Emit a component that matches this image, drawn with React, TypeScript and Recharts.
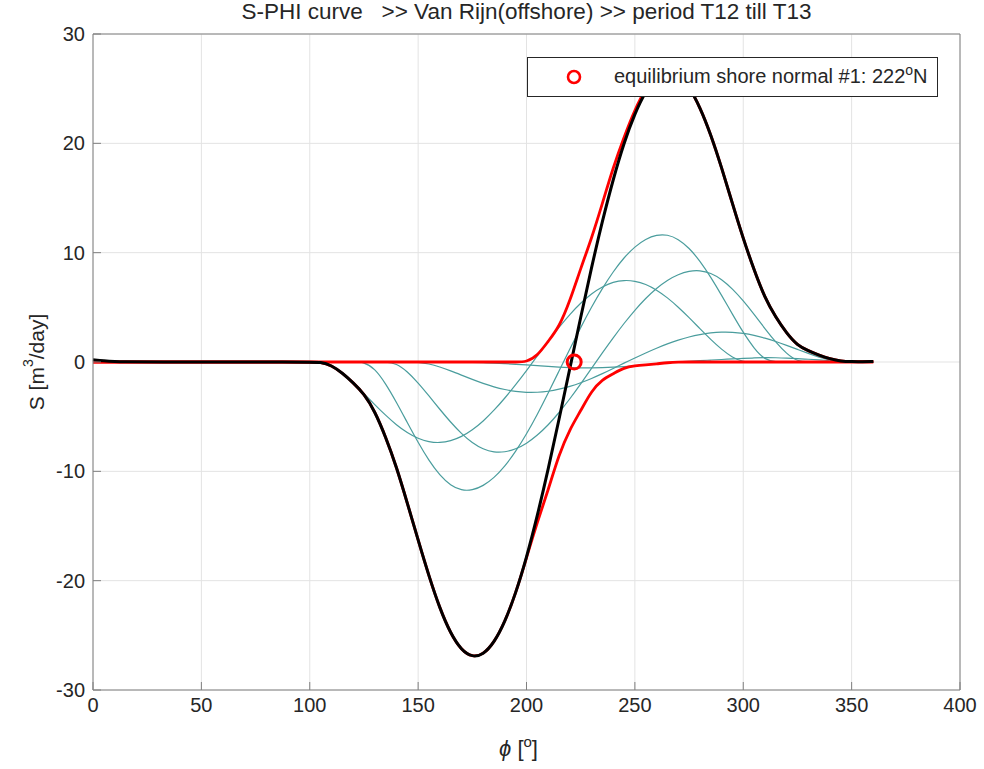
import {
  CartesianGrid,
  ComposedChart,
  Legend,
  Line,
  ReferenceDot,
  XAxis,
  YAxis,
} from 'recharts'

const FONT = '"Liberation Sans", Arial, Helvetica, sans-serif'
const INK = '#262626'
const FRAME = '#808080'
const TEAL = '#4a9d9d'
const RED = '#ff0000'

const TITLE = 'S-PHI curve   >> Van Rijn(offshore) >> period T12 till T13'

// shore normal angle [deg]
const PHI = [
  0, 5, 10, 15, 20, 100, 105, 110, 115, 120, 125, 130, 135, 140, 145, 150, 155,
  160, 165, 170, 175, 180, 185, 190, 195, 200, 205, 210, 215, 220, 225, 230, 235,
  240, 245, 250, 255, 260, 265, 270, 275, 280, 285, 290, 295, 300, 305, 310, 315,
  320, 325, 330, 335, 340, 345, 350, 355, 360,
]

// transport per wave condition [m3/day]
const S_COND_1 = [
  0, 0, 0, 0, 0, 0, 0, -0.3, -1.0, -1.89, -2.89, -3.9, -4.88, -5.76, -6.48,
  -7.01, -7.32, -7.4, -7.23, -6.84, -6.23, -5.42, -4.43, -3.31, -2.08, -0.79,
  0.55, 1.9, 3.18, 4.36, 5.4, 6.26, 6.9, 7.32, 7.49, 7.42, 7.12, 6.6, 5.89, 5.03,
  4.07, 3.05, 2.06, 1.15, 0.41, 0, 0, 0, 0, 0, 0, 0, 0, 0, 0, 0, 0, 0,
]
const S_COND_2 = [
  0, 0, 0, 0, 0, 0, 0, 0, 0, 0, 0, -0.59, -1.96, -3.68, -5.54, -7.37, -9.02,
  -10.37, -11.3, -11.76, -11.74, -11.34, -10.61, -9.55, -8.2, -6.6, -4.8, -2.85,
  -0.82, 1.2, 3.16, 5.03, 6.75, 8.27, 9.56, 10.56, 11.26, 11.64, 11.66, 11.26,
  10.44, 9.25, 7.77, 6.11, 4.37, 2.69, 1.23, 0.19, 0, 0, 0, 0, 0, 0, 0, 0, 0, 0,
]
const S_COND_3 = [
  0, 0, 0, 0, 0, 0, 0, 0, 0, 0, 0, 0, 0, -0.13, -0.87, -1.91, -3.1, -4.33,
  -5.51, -6.56, -7.41, -7.99, -8.27, -8.25, -7.98, -7.46, -6.71, -5.77, -4.64,
  -3.38, -2.01, -0.58, 0.84, 2.22, 3.54, 4.75, 5.84, 6.76, 7.5, 8.02, 8.33, 8.39,
  8.15, 7.57, 6.7, 5.61, 4.36, 3.05, 1.81, 0.75, 0.05, 0, 0, 0, 0, 0, 0, 0,
]
const S_COND_4 = [
  0, 0, 0, 0, 0, 0, 0, 0, 0, 0, 0, 0, 0, 0, 0, 0, -0.16, -0.45, -0.81, -1.2,
  -1.59, -1.96, -2.28, -2.53, -2.71, -2.79, -2.78, -2.69, -2.5, -2.24, -1.91,
  -1.51, -1.07, -0.6, -0.1, 0.37, 0.83, 1.27, 1.66, 2.01, 2.3, 2.52, 2.67, 2.74,
  2.73, 2.64, 2.45, 2.2, 1.88, 1.52, 1.15, 0.78, 0.43, 0.16, 0, 0, 0, 0,
]
const S_COND_5 = [
  0, 0, 0, 0, 0, 0, 0, 0, 0, 0, 0, 0, 0, 0, 0, 0, 0, 0, 0, -0.01, -0.03, -0.06,
  -0.1, -0.15, -0.21, -0.27, -0.34, -0.41, -0.47, -0.52, -0.55, -0.54, -0.52,
  -0.48, -0.42, -0.35, -0.26, -0.17, -0.06, 0.02, 0.07, 0.12, 0.18, 0.23, 0.28,
  0.33, 0.37, 0.4, 0.39, 0.36, 0.31, 0.25, 0.19, 0.13, 0.07, 0.03, 0.01, 0,
]

// net transport, positive part and negative part
const S_TOTAL = [
  0.2, 0.1, 0.04, 0.01, 0, 0, 0, -0.3, -1.0, -1.89, -2.89, -4.49, -6.84, -9.57,
  -12.89, -16.29, -19.6, -22.55, -24.85, -26.37, -27.0, -26.77, -25.69, -23.79,
  -21.18, -17.91, -14.08, -9.82, -5.25, -0.58, 4.09, 8.66, 12.9, 16.73, 20.07,
  22.75, 24.79, 26.1, 26.65, 26.34, 25.21, 23.33, 20.83, 17.8, 14.49, 11.27,
  8.41, 5.84, 4.08, 2.63, 1.51, 1.03, 0.62, 0.29, 0.07, 0.03, 0.03, 0.05,
]
const S_POSITIVE = [
  0, 0, 0, 0, 0, 0, 0, 0, 0, 0, 0, 0, 0, 0, 0, 0, 0, 0, 0, 0, 0, 0, 0, 0, 0, 0,
  0.55, 1.9, 3.18, 5.56, 8.56, 11.29, 14.49, 17.81, 20.59, 23.1, 25.05, 26.27,
  26.71, 26.34, 25.21, 23.33, 20.83, 17.8, 14.49, 11.27, 8.41, 5.84, 4.08, 2.63,
  1.51, 1.03, 0.62, 0.29, 0.07, 0.03, 0.03, 0.05,
]
const S_NEGATIVE = [
  0, 0, 0, 0, 0, 0, 0, -0.3, -1.0, -1.89, -2.89, -4.49, -6.84, -9.57, -12.89,
  -16.29, -19.6, -22.55, -24.85, -26.37, -27.0, -26.77, -25.69, -23.79, -21.18,
  -17.91, -14.63, -11.72, -8.43, -6.14, -4.47, -2.63, -1.59, -1.08, -0.52,
  -0.35, -0.26, -0.17, -0.06, 0, 0, 0, 0, 0, 0, 0, 0, 0, 0, 0, 0, 0, 0, 0, 0,
  0, 0, 0,
]

const EQ_PHI = [222]
const EQ_S = [0]

const X_TICKS = [0, 50, 100, 150, 200, 250, 300, 350, 400]
const Y_TICKS = [-30, -20, -10, 0, 10, 20, 30]

const CONDITIONS = [S_COND_1, S_COND_2, S_COND_3, S_COND_4, S_COND_5]

const rows = PHI.map((phi, i) => ({
  phi,
  c1: S_COND_1[i],
  c2: S_COND_2[i],
  c3: S_COND_3[i],
  c4: S_COND_4[i],
  c5: S_COND_5[i],
  pos: S_POSITIVE[i],
  neg: S_NEGATIVE[i],
  total: S_TOTAL[i],
}))

const tickStyle = { fill: INK, fontSize: 20, fontFamily: FONT }

function TitleLabel({ viewBox }: any) {
  const cx = viewBox.x + viewBox.width / 2
  return (
    <text
      x={cx}
      y={viewBox.y - 5}
      textAnchor="middle"
      fill={INK}
      fontSize={22.5}
      fontFamily={FONT}
      style={{ whiteSpace: 'pre' }}
    >
      {TITLE}
    </text>
  )
}

function XLabel({ viewBox }: any) {
  const cx = viewBox.x + viewBox.width / 2
  return (
    <text x={cx - 8} y={756} textAnchor="middle" fill={INK} fontSize={22} fontFamily={FONT}>
      <tspan fontStyle="italic">ϕ</tspan>
      <tspan> [</tspan>
      <tspan dy={-9} fontSize={15}>o</tspan>
      <tspan dy={9}>]</tspan>
    </text>
  )
}

function YLabel({ viewBox }: any) {
  const cy = viewBox.y + viewBox.height / 2
  const cx = 36
  return (
    <text
      x={cx}
      y={cy}
      transform={`rotate(-90, ${cx}, ${cy})`}
      textAnchor="middle"
      dominantBaseline="central"
      fill={INK}
      fontSize={21}
      fontFamily={FONT}
    >
      <tspan>S [m</tspan>
      <tspan dy={-8} fontSize={14}>3</tspan>
      <tspan dy={8}>/day]</tspan>
    </text>
  )
}

function EquilibriumLegend() {
  return (
    <div
      style={{
        boxSizing: 'border-box',
        width: 411,
        height: 40,
        border: `1px solid ${INK}`,
        background: '#fff',
        position: 'relative',
        fontFamily: FONT,
        fontSize: 20,
        color: INK,
      }}
    >
      <svg width={20} height={20} style={{ position: 'absolute', left: 36, top: 9 }}>
        <circle cx={10} cy={10} r={6} fill="none" stroke={RED} strokeWidth={2.6} />
      </svg>
      <span style={{ position: 'absolute', left: 86, top: 7, whiteSpace: 'nowrap' }}>
        equilibrium shore normal #1: {EQ_PHI[0]}
        <span style={{ fontSize: 14, verticalAlign: 'super', lineHeight: 0 }}>o</span>N
      </span>
    </div>
  )
}

export default function App() {
  return (
    <div style={{ position: 'absolute', left: 0, top: 0, width: 984, height: 769, background: '#fff' }}>
      <ComposedChart
        width={984}
        height={769}
        data={rows}
        margin={{ top: 24, right: 14, bottom: 39, left: 33 }}
      >
        <CartesianGrid xAxisId="bottom" yAxisId="left" stroke="#e3e3e3" />
        <XAxis
          xAxisId="bottom"
          dataKey="phi"
          type="number"
          domain={[0, 400]}
          ticks={X_TICKS}
          height={40}
          tickSize={-8}
          tickMargin={16}
          tick={tickStyle}
          stroke={FRAME}
          label={<XLabel />}
        />
        <XAxis
          xAxisId="top"
          orientation="top"
          dataKey="phi"
          type="number"
          domain={[0, 400]}
          ticks={X_TICKS}
          height={10}
          tickSize={-8}
          tick={false}
          stroke={FRAME}
          label={<TitleLabel />}
        />
        <YAxis
          yAxisId="left"
          type="number"
          domain={[-30, 30]}
          ticks={Y_TICKS}
          width={60}
          tickSize={-8}
          tickMargin={16}
          tick={tickStyle}
          stroke={FRAME}
          label={<YLabel />}
        />
        <YAxis
          yAxisId="right"
          orientation="right"
          type="number"
          domain={[-30, 30]}
          ticks={Y_TICKS}
          width={10}
          tickSize={-8}
          tick={false}
          stroke={FRAME}
        />
        {CONDITIONS.map((_, i) => (
          <Line
            key={`cond-${i}`}
            xAxisId="bottom"
            yAxisId="left"
            type="basis"
            dataKey={`c${i + 1}`}
            stroke={TEAL}
            strokeWidth={1.2}
            dot={false}
            activeDot={false}
            isAnimationActive={false}
          />
        ))}
        <Line
          xAxisId="bottom"
          yAxisId="left"
          type="basis"
          dataKey="pos"
          stroke={RED}
          strokeWidth={2.8}
          dot={false}
          activeDot={false}
          isAnimationActive={false}
        />
        <Line
          xAxisId="bottom"
          yAxisId="left"
          type="basis"
          dataKey="neg"
          stroke={RED}
          strokeWidth={2.8}
          dot={false}
          activeDot={false}
          isAnimationActive={false}
        />
        <Line
          xAxisId="bottom"
          yAxisId="left"
          type="basis"
          dataKey="total"
          stroke="#000"
          strokeWidth={3}
          dot={false}
          activeDot={false}
          isAnimationActive={false}
        />
        <ReferenceDot
          xAxisId="bottom"
          yAxisId="left"
          x={EQ_PHI[0]}
          y={EQ_S[0]}
          r={7}
          fill="none"
          stroke={RED}
          strokeWidth={3}
        />
        <Legend
          layout="vertical"
          align="center"
          verticalAlign="middle"
          content={<EquilibriumLegend />}
          wrapperStyle={{ left: 527, top: 57, width: 411, height: 40 }}
        />
      </ComposedChart>
    </div>
  )
}
